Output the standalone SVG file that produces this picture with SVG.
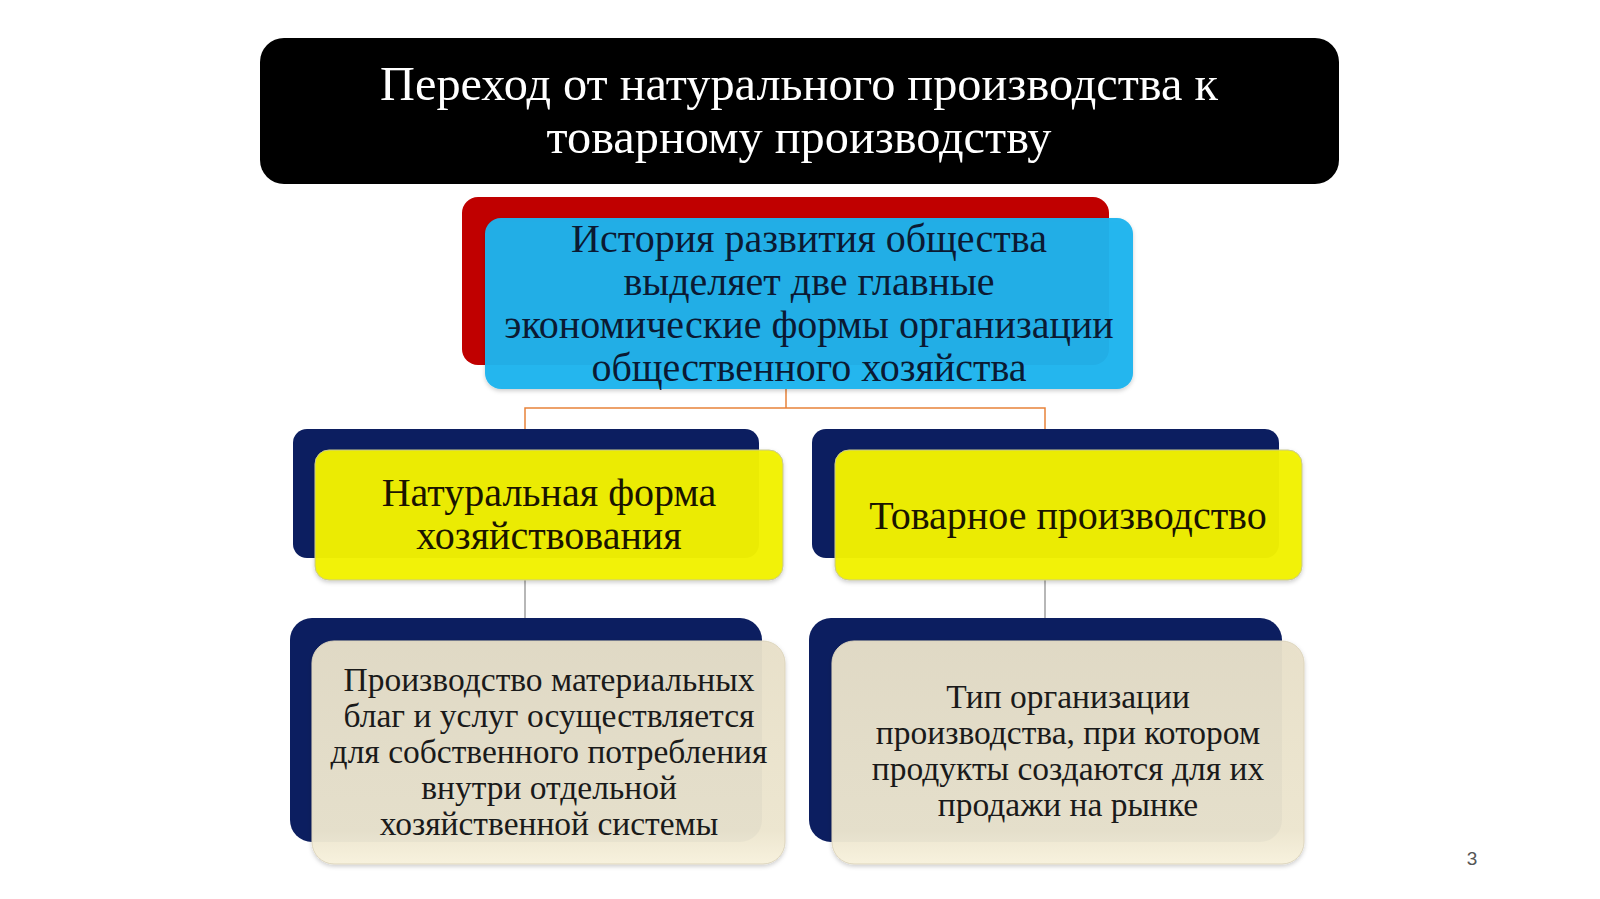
<svg xmlns="http://www.w3.org/2000/svg" width="1600" height="899" viewBox="0 0 1600 899">
<defs>
<linearGradient id="beige" x1="0" y1="0" x2="0" y2="1">
<stop offset="0" stop-color="#E8E0C9"/>
<stop offset="0.85" stop-color="#EDE6CF"/>
<stop offset="1" stop-color="#F8F2DD"/>
</linearGradient>
<filter id="sh" x="-5%" y="-5%" width="110%" height="115%">
<feDropShadow dx="0" dy="2" stdDeviation="2" flood-color="#000" flood-opacity="0.2"/>
</filter>
</defs>
<style>
.t{font-family:"Liberation Serif","Times New Roman",serif;text-anchor:middle}
.title{fill:#FFFFFF;font-size:48.3px}
.blue{fill:#0B1A33;font-size:40px}
.yel{fill:#1A1400;font-size:40px}
.bei{fill:#1A1A1A;font-size:33.5px}
.navy{fill:#0C1E60}
.ybox{fill:#F3F300;fill-opacity:0.96;stroke:#C8C890;stroke-width:1}
.bbox{fill:url(#beige);fill-opacity:0.96;stroke:#DDD5BD;stroke-width:1}
</style>
<rect width="1600" height="899" fill="#FFFFFF"/>

<g id="title">
<rect x="260" y="38" width="1079" height="146" rx="24" fill="#000000"/>
<text class="t title" x="799" y="100">Переход от натурального производства к</text>
<text class="t title" x="799" y="153">товарному производству</text>
</g>

<g id="connectors" fill="none">
<path d="M786 389 V408 M525 429 V408 H1045 V429" stroke="#E8823A" stroke-width="1.5"/>
<path d="M525 580 V618 M1045 580 V618" stroke="#A0A0A0" stroke-width="1.5"/>
</g>

<g id="history">
<rect x="462" y="197" width="647" height="168" rx="16" fill="#C00000"/>
<rect x="485" y="218" width="648" height="171" rx="16" fill="#1CB4EE" fill-opacity="0.96" filter="url(#sh)"/>
<text class="t blue" x="809" y="252">История развития общества</text>
<text class="t blue" x="809" y="295">выделяет две главные</text>
<text class="t blue" x="809" y="338">экономические формы организации</text>
<text class="t blue" x="809" y="381">общественного хозяйства</text>
</g>

<g id="natural">
<rect class="navy" x="293" y="429" width="466" height="129" rx="14"/>
<rect class="ybox" x="315" y="450" width="468" height="130" rx="14" filter="url(#sh)"/>
<text class="t yel" x="549" y="506">Натуральная форма</text>
<text class="t yel" x="549" y="549">хозяйствования</text>
</g>

<g id="commodity">
<rect class="navy" x="812" y="429" width="467" height="129" rx="14"/>
<rect class="ybox" x="835" y="450" width="467" height="130" rx="14" filter="url(#sh)"/>
<text class="t yel" x="1068" y="529">Товарное производство</text>
</g>

<g id="natural-desc">
<rect class="navy" x="290" y="618" width="472" height="224" rx="22"/>
<rect class="bbox" x="312" y="641" width="473" height="223" rx="22" filter="url(#sh)"/>
<text class="t bei" x="549" y="691">Производство материальных</text>
<text class="t bei" x="549" y="727">благ и услуг осуществляется</text>
<text class="t bei" x="549" y="763">для собственного потребления</text>
<text class="t bei" x="549" y="799">внутри отдельной</text>
<text class="t bei" x="549" y="835">хозяйственной системы</text>
</g>

<g id="commodity-desc">
<rect class="navy" x="809" y="618" width="473" height="224" rx="22"/>
<rect class="bbox" x="832" y="641" width="472" height="223" rx="22" filter="url(#sh)"/>
<text class="t bei" x="1068" y="708">Тип организации</text>
<text class="t bei" x="1068" y="744">производства, при котором</text>
<text class="t bei" x="1068" y="780">продукты создаются для их</text>
<text class="t bei" x="1068" y="816">продажи на рынке</text>
</g>

<g id="page-number">
<text x="1472" y="865" font-family="Liberation Sans, Arial, sans-serif" font-size="19" fill="#555555" text-anchor="middle">3</text>
</g>
</svg>
